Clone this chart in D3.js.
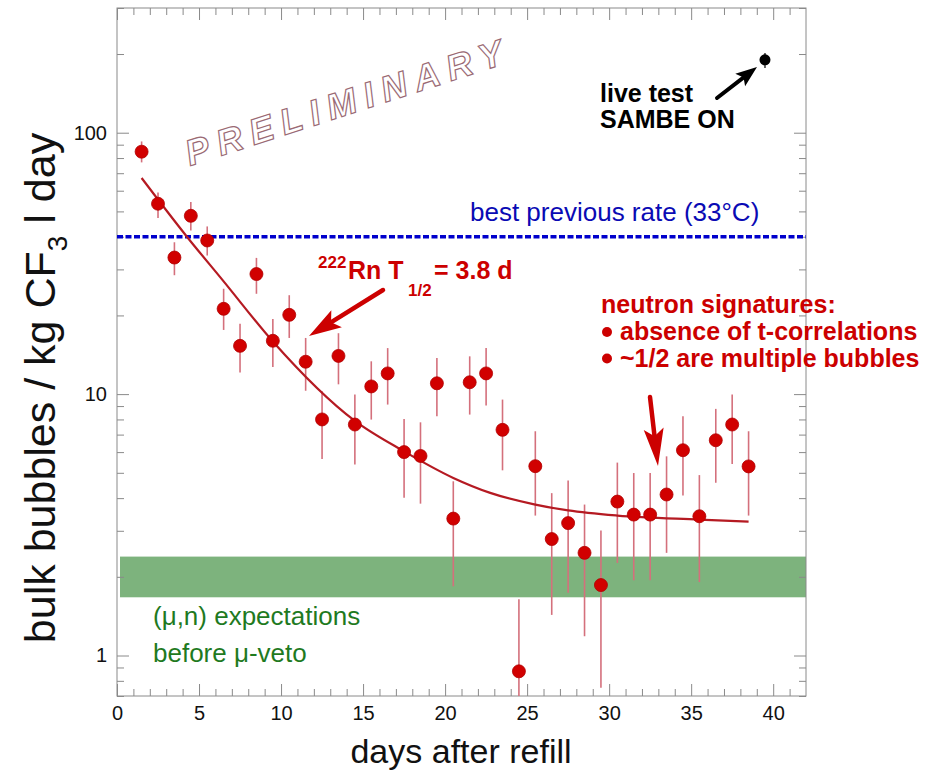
<!DOCTYPE html>
<html>
<head>
<meta charset="utf-8">
<script src="https://cdn.jsdelivr.net/npm/d3@7"></script>
<style>
  body { margin: 0; background: #fff; }
  svg text { font-family: "Liberation Sans", Arial, Helvetica, sans-serif; }
</style>
</head>
<body>
<div id="chart"></div>
<script>
// --- DATA --- \\
var days = [1.5, 2.5, 3.5, 4.5, 5.5, 6.5, 7.5, 8.5, 9.5, 10.5, 11.5, 12.5, 13.5, 14.5, 15.5, 16.5, 17.5, 18.5, 19.5,
	20.5, 21.5, 22.5, 23.5, 24.5, 25.5, 26.5, 27.5, 28.5, 29.5, 30.5, 31.5, 32.5, 33.5, 34.5, 35.5, 36.5, 37.5, 38.5];
var rates = [84.6, 53.5, 33.3, 48.1, 38.7, 21.2, 15.3, 28.8, 16.0, 20.1, 13.3, 8.0, 14.0, 7.65, 10.7, 12.0, 6.0, 5.8, 11.0,
	3.34, 11.1, 12.0, 7.3, 0.87, 5.3, 2.79, 3.21, 2.47, 1.86, 3.88, 3.46, 3.46, 4.13, 6.1, 3.41, 6.66, 7.65, 5.29];
var rateHi = [92.6, 59.1, 38.1, 54.3, 43.8, 25.3, 18.6, 33.2, 19.4, 23.9, 16.4, 10.25, 17.1, 9.96, 13.35, 15.0, 8.04, 7.8, 13.75,
	4.64, 13.95, 15.0, 9.53, 1.64, 7.21, 4.18, 4.67, 3.78, 3.01, 5.47, 4.99, 4.99, 5.78, 8.23, 4.9, 8.78, 9.96, 7.21];
var rateLo = [77.0, 47.2, 28.5, 42.3, 33.9, 17.6, 12.1, 24.2, 12.7, 16.4, 10.3, 5.65, 10.9, 5.38, 7.99, 9.12, 4.01, 3.81, 8.23,
	1.84, 8.35, 9.04, 5.11, 0.5, 3.43, 1.43, 1.74, 1.185, 0.752, 2.26, 1.94, 1.94, 2.47, 4.09, 1.91, 4.58, 5.4, 3.43];

// Rn-222 decay fit
var fitDays = [1.5, 4.25, 6.5, 9.5, 14.5, 17.5, 20.5, 22.75, 25.5, 27.5, 30.5, 35.5, 38.5];
var fitRates = [67.1, 40.1, 27.0, 15.9, 7.9, 6.04, 4.78, 4.19, 3.78, 3.59, 3.43, 3.31, 3.25];

// live test with SAMBE on
var liveDay = [39.5];
var liveRate = [190];
var liveHi = [202];
var liveLo = [177];

var bestPrevRate = 40;
var muBand = [1.67, 2.39];

var xDomain = [0, 42];
var yDomain = [0.7, 300];
var xMajorTicks = [0, 5, 10, 15, 20, 25, 30, 35, 40];
var xMinorTicks = [1, 2, 3, 4, 6, 7, 8, 9, 11, 12, 13, 14, 16, 17, 18, 19, 21, 22, 23, 24, 26, 27, 28, 29,
	31, 32, 33, 34, 36, 37, 38, 39, 41];
var yMajorTicks = [1, 10, 100];
var yMinorTicks = [0.7, 0.8, 0.9, 2, 3, 4, 5, 6, 7, 8, 9, 20, 30, 40, 50, 60, 70, 80, 90, 200, 300];

var width = 949, height = 771;
var plot = {left: 117, right: 806, top: 8, bottom: 696};

var red = "#cc0000", dotRed = "#d10000", barRed = "#d4707c", fitRed = "#b51a22";

var svg = d3.select("#chart").append("svg")
	.attr("width", width)
	.attr("height", height);

var x = d3.scaleLinear().domain(xDomain).range([plot.left, plot.right]);
var y = d3.scaleLog().domain(yDomain).range([plot.bottom, plot.top]);

svg.append("clipPath").attr("id", "clip")
	.append("rect")
	.attr("x", plot.left).attr("y", plot.top)
	.attr("width", plot.right - plot.left).attr("height", plot.bottom - plot.top);

// --- GREEN BAND (mu,n) --- \\
svg.append("rect")
	.attr("x", x(0) + 3)
	.attr("width", plot.right - x(0) - 3)
	.attr("y", y(muBand[1]))
	.attr("height", y(muBand[0]) - y(muBand[1]))
	.attr("fill", "#7db37d");

// --- AXES --- \\
function addAxis(axisFn, ticks, size, fmt, transform) {
	var g = svg.append("g")
		.attr("transform", transform)
		.call(axisFn.tickValues(ticks).tickSize(-size).tickSizeOuter(0).tickPadding(10).tickFormat(fmt));
	g.select(".domain").remove();
	g.selectAll("line").attr("stroke", "#8a8a8a");
	g.selectAll("text").attr("fill", "#111").style("font-size", "20px");
	return g;
}
var noLabel = function() { return ""; };

addAxis(d3.axisBottom(x), xMajorTicks, 12, d3.format("d"), "translate(0," + plot.bottom + ")");
addAxis(d3.axisBottom(x), xMinorTicks, 7, noLabel, "translate(0," + plot.bottom + ")");
addAxis(d3.axisTop(x), xMajorTicks, 12, noLabel, "translate(0," + plot.top + ")");
addAxis(d3.axisTop(x), xMinorTicks, 7, noLabel, "translate(0," + plot.top + ")");
addAxis(d3.axisLeft(y), yMajorTicks, 12, d3.format("d"), "translate(" + plot.left + ",0)");
addAxis(d3.axisLeft(y), yMinorTicks, 7, noLabel, "translate(" + plot.left + ",0)");
addAxis(d3.axisRight(y), yMajorTicks, 12, noLabel, "translate(" + plot.right + ",0)");
addAxis(d3.axisRight(y), yMinorTicks, 7, noLabel, "translate(" + plot.right + ",0)");

svg.append("rect")
	.attr("x", plot.left).attr("y", plot.top)
	.attr("width", plot.right - plot.left).attr("height", plot.bottom - plot.top)
	.attr("fill", "none").attr("stroke", "#8a8a8a").attr("stroke-width", 1);

// axis titles
svg.append("text")
	.attr("x", 461).attr("y", 763)
	.attr("text-anchor", "middle")
	.style("font-size", "34px").attr("fill", "#111")
	.text("days after refill");

var yTitle = svg.append("text")
	.attr("transform", "translate(55,388) rotate(-90)")
	.attr("text-anchor", "middle")
	.style("font-size", "43px").attr("fill", "#111");
yTitle.append("tspan").text("bulk bubbles / kg CF");
yTitle.append("tspan").attr("dy", 12).style("font-size", "28px").text("3");
yTitle.append("tspan").attr("dy", -12).text(" l day");

// --- PRELIMINARY watermark --- \\
svg.append("text")
	.attr("x", 190).attr("y", 166)
	.attr("transform", "rotate(-18,190,166)")
	.attr("textLength", 332).attr("lengthAdjust", "spacing")
	.style("font-size", "36px").style("font-weight", "bold").style("font-style", "italic")
	.attr("fill", "#fff").attr("stroke", "#9a6a74").attr("stroke-width", 1.2)
	.text("PRELIMINARY");

// --- BEST PREVIOUS RATE --- \\
svg.append("line")
	.attr("x1", plot.left).attr("x2", plot.right)
	.attr("y1", y(bestPrevRate)).attr("y2", y(bestPrevRate))
	.attr("stroke", "#0000cc").attr("stroke-width", 3.5)
	.attr("stroke-dasharray", "6,2.5");

svg.append("text")
	.attr("x", 470).attr("y", 221)
	.style("font-size", "26px").attr("fill", "#0a0ab4")
	.text("best previous rate (33°C)");

// --- DATA POINTS --- \\
var pts = days.map(function(d, i) { return {t: d, v: rates[i], hi: rateHi[i], lo: rateLo[i]}; });
var dataG = svg.append("g").attr("clip-path", "url(#clip)");

dataG.selectAll(".err").data(pts).enter().append("line")
	.attr("class", "err")
	.attr("x1", function(d) { return x(d.t); }).attr("x2", function(d) { return x(d.t); })
	.attr("y1", function(d) { return y(d.hi); }).attr("y2", function(d) { return y(d.lo); })
	.attr("stroke", barRed).attr("stroke-width", 1.6);

// fit curve
var fitLine = d3.line()
	.x(function(d) { return x(d[0]); })
	.y(function(d) { return y(d[1]); })
	.curve(d3.curveMonotoneX);
dataG.append("path")
	.datum(fitDays.map(function(d, i) { return [d, fitRates[i]]; }))
	.attr("d", fitLine)
	.attr("fill", "none").attr("stroke", fitRed).attr("stroke-width", 2.2);

dataG.selectAll(".dot").data(pts).enter().append("circle")
	.attr("class", "dot")
	.attr("cx", function(d) { return x(d.t); })
	.attr("cy", function(d) { return y(d.v); })
	.attr("r", 6.5)
	.attr("fill", dotRed).attr("stroke", "#b00000").attr("stroke-width", 0.8);

// live test point
var live = liveDay.map(function(d, i) { return {t: d, v: liveRate[i], hi: liveHi[i], lo: liveLo[i]}; });
dataG.selectAll(".liveerr").data(live).enter().append("line")
	.attr("x1", function(d) { return x(d.t); }).attr("x2", function(d) { return x(d.t); })
	.attr("y1", function(d) { return y(d.hi); }).attr("y2", function(d) { return y(d.lo); })
	.attr("stroke", "#333").attr("stroke-width", 1.5);
dataG.selectAll(".live").data(live).enter().append("circle")
	.attr("cx", function(d) { return x(d.t); })
	.attr("cy", function(d) { return y(d.v); })
	.attr("r", 5.5).attr("fill", "#000");

// --- ANNOTATIONS --- \\
function arrow(x1, y1, x2, y2, color, w, headLen, headHalf) {
	var ang = Math.atan2(y2 - y1, x2 - x1);
	var bx = x2 - headLen * Math.cos(ang), by = y2 - headLen * Math.sin(ang);
	svg.append("line")
		.attr("x1", x1).attr("y1", y1).attr("x2", bx + 3 * Math.cos(ang)).attr("y2", by + 3 * Math.sin(ang))
		.attr("stroke", color).attr("stroke-width", w).attr("stroke-linecap", "round");
	var px = -Math.sin(ang), py = Math.cos(ang);
	// slightly swept-back head
	var back = headLen * 0.25;
	svg.append("path")
		.attr("d", "M" + x2 + "," + y2 +
			"L" + (bx - back * Math.cos(ang) + headHalf * px) + "," + (by - back * Math.sin(ang) + headHalf * py) +
			"L" + bx + "," + by +
			"L" + (bx - back * Math.cos(ang) - headHalf * px) + "," + (by - back * Math.sin(ang) - headHalf * py) + "Z")
		.attr("fill", color);
}

// live test label
svg.append("text").attr("x", 600).attr("y", 102)
	.style("font-size", "25px").style("font-weight", "bold").attr("fill", "#000")
	.text("live test");
svg.append("text").attr("x", 600).attr("y", 128)
	.style("font-size", "25px").style("font-weight", "bold").attr("fill", "#000")
	.text("SAMBE ON");
arrow(717, 98, 757, 67, "#000", 4, 17, 8);

// Rn half-life label
var rn = svg.append("text").style("font-weight", "bold").attr("fill", red);
rn.append("tspan").attr("x", 318).attr("y", 268).style("font-size", "17px").text("222");
rn.append("tspan").attr("x", 348).attr("y", 279).style("font-size", "25px").text("Rn T");
rn.append("tspan").attr("x", 408).attr("y", 296).style("font-size", "17px").text("1/2");
rn.append("tspan").attr("x", 434).attr("y", 279).style("font-size", "25px").text("= 3.8 d");
arrow(383, 290, 309, 336, red, 4.5, 26, 10);

// neutron signatures
svg.append("text").attr("x", 601).attr("y", 313)
	.style("font-size", "25px").style("font-weight", "bold").attr("fill", red)
	.text("neutron signatures:");
svg.append("text").attr("x", 620).attr("y", 340)
	.style("font-size", "25px").style("font-weight", "bold").attr("fill", red)
	.text("absence of t-correlations");
svg.append("text").attr("x", 620).attr("y", 367)
	.style("font-size", "25px").style("font-weight", "bold").attr("fill", red)
	.text("~1/2 are multiple bubbles");
svg.append("circle").attr("cx", 607).attr("cy", 332).attr("r", 5).attr("fill", red);
svg.append("circle").attr("cx", 607).attr("cy", 358.5).attr("r", 5).attr("fill", red);
arrow(650, 397, 658, 466, red, 4.5, 30, 10);

// (mu,n) expectation label
svg.append("text").attr("x", 153).attr("y", 625)
	.style("font-size", "26px").attr("fill", "#1f7a1f")
	.text("(μ,n) expectations");
svg.append("text").attr("x", 153).attr("y", 662)
	.style("font-size", "26px").attr("fill", "#1f7a1f")
	.text("before μ-veto");
</script>
</body>
</html>
